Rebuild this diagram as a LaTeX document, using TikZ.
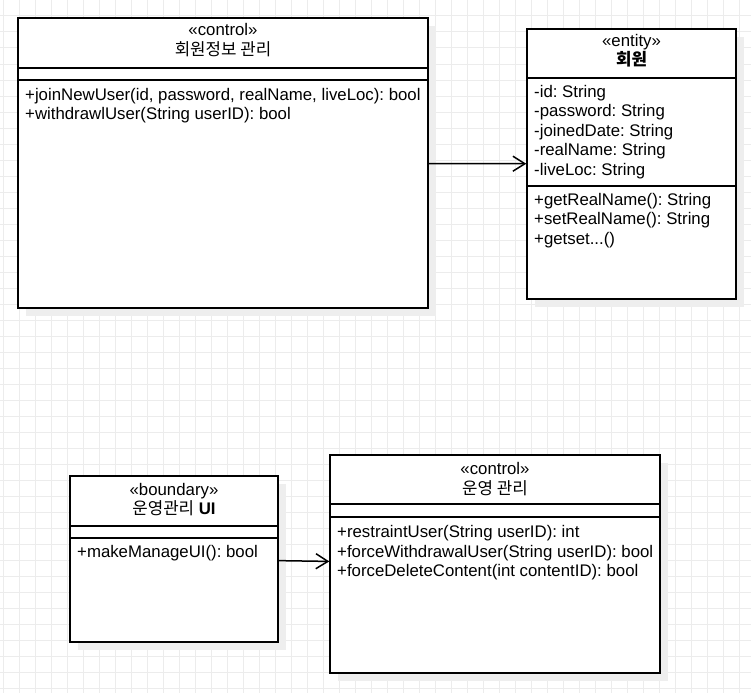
\documentclass[tikz,border=0pt]{standalone}
\usepackage{fontspec}
\setmainfont{Liberation Sans}
\newfontfamily\krfont{Noto Sans CJK KR}
\usetikzlibrary{arrows.meta,positioning,shadows}
\definecolor{gridc}{RGB}{236,236,236}
\definecolor{shad}{RGB}{238,238,238}
\frenchspacing

\begin{document}
\begin{tikzpicture}[
        x=1pt, y=-1pt,
        cls/.style={rectangle, draw, line width=1.4pt, fill=white, inner sep=0pt,
            drop shadow={shadow xshift=8pt, shadow yshift=-8pt, fill=shad, opacity=1}},
        sep/.style={line width=1.4pt},
        txt/.style={inner sep=0pt, anchor=base west, font=\fontsize{16.8}{19.5}\selectfont},
        ttl/.style={inner sep=0pt, anchor=base, font=\fontsize{16.8}{19.5}\selectfont},
        assoc/.style={line width=1.5pt, -{Straight Barb[length=12pt, width=15pt]}},
        gridline/.style={gridc, line width=1pt},
    ]
        % Background and grid
        \fill[white] (0,0) rectangle (751,693);
        \useasboundingbox (0,0) rectangle (751,693);
        \foreach \gx in {3,19,...,751} \draw[gridline] (\gx,0) -- (\gx,693);
        \foreach \gy in {0,16,...,693} \draw[gridline] (0,\gy) -- (751,\gy);

        % Class boxes
        \node[cls, minimum width=410pt, minimum height=290pt] (ctlMember) at (223, 163) {};
        \node[cls, minimum width=209pt, minimum height=270pt] (entMember) at (631.5, 164) {};
        \node[cls, minimum width=208pt, minimum height=166pt] (bndManage) at (174, 559) {};
        \node[cls, minimum width=330pt, minimum height=218pt] (ctlManage) at (495, 564) {};

        % Compartment dividers
        \draw[sep] (ctlMember.west |- 0,68) -- (ctlMember.east |- 0,68);
        \draw[sep] (ctlMember.west |- 0,80) -- (ctlMember.east |- 0,80);
        \draw[sep] (entMember.west |- 0,78) -- (entMember.east |- 0,78);
        \draw[sep] (entMember.west |- 0,186) -- (entMember.east |- 0,186);
        \draw[sep] (bndManage.west |- 0,526) -- (bndManage.east |- 0,526);
        \draw[sep] (bndManage.west |- 0,538) -- (bndManage.east |- 0,538);
        \draw[sep] (ctlManage.west |- 0,504) -- (ctlManage.east |- 0,504);
        \draw[sep] (ctlManage.west |- 0,517) -- (ctlManage.east |- 0,517);

        % 회원정보 관리 (control)
        \node[ttl] (ctlMemberSt) at (223, 36) {«control»};
        \node[ttl] (ctlMemberNm) at (223, 56) {\krfont 회원정보 관리};
        \node[txt] (ctlMemberM1) at (25, 100) {+joinNewUser(id, password, realName, liveLoc): bool};
        \node[txt] (ctlMemberM2) at (25, 119.5) {+withdrawlUser(String userID): bool};

        % 회원 (entity)
        \node[ttl] (entMemberSt) at (631.5, 47) {«entity»};
        \node[ttl] (entMemberNm) at (631.5, 66) {\krfont\bfseries 회원};
        \node[txt] (entMemberA1) at (534, 97) {-id: String};
        \node[txt] (entMemberA2) at (534, 116.5) {-password: String};
        \node[txt] (entMemberA3) at (534, 136) {-joinedDate: String};
        \node[txt] (entMemberA4) at (534, 155.5) {-realName: String};
        \node[txt] (entMemberA5) at (534, 175) {-liveLoc: String};
        \node[txt] (entMemberM1) at (534, 205) {+getRealName(): String};
        \node[txt] (entMemberM2) at (534, 224.5) {+setRealName(): String};
        \node[txt] (entMemberM3) at (534, 244) {+getset...()};

        % 운영관리 UI (boundary)
        \node[ttl] (bndManageSt) at (174, 495) {«boundary»};
        \node[ttl] (bndManageNm) at (174, 514) {{\krfont 운영관리} \textbf{UI}};
        \node[txt] (bndManageM1) at (77, 557) {+makeManageUI(): bool};

        % 운영 관리 (control)
        \node[ttl] (ctlManageSt) at (495, 474.5) {«control»};
        \node[ttl] (ctlManageNm) at (495, 494) {\krfont 운영 관리};
        \node[txt] (ctlManageM1) at (337, 537.5) {+restraintUser(String userID): int};
        \node[txt] (ctlManageM2) at (337, 557) {+forceWithdrawalUser(String userID): bool};
        \node[txt] (ctlManageM3) at (337, 576.5) {+forceDeleteContent(int contentID): bool};

        % Associations
        \draw[assoc] (ctlMember) -- (entMember);
        \draw[assoc] (bndManage) -- (ctlManage);
    \end{tikzpicture}
\end{document}
